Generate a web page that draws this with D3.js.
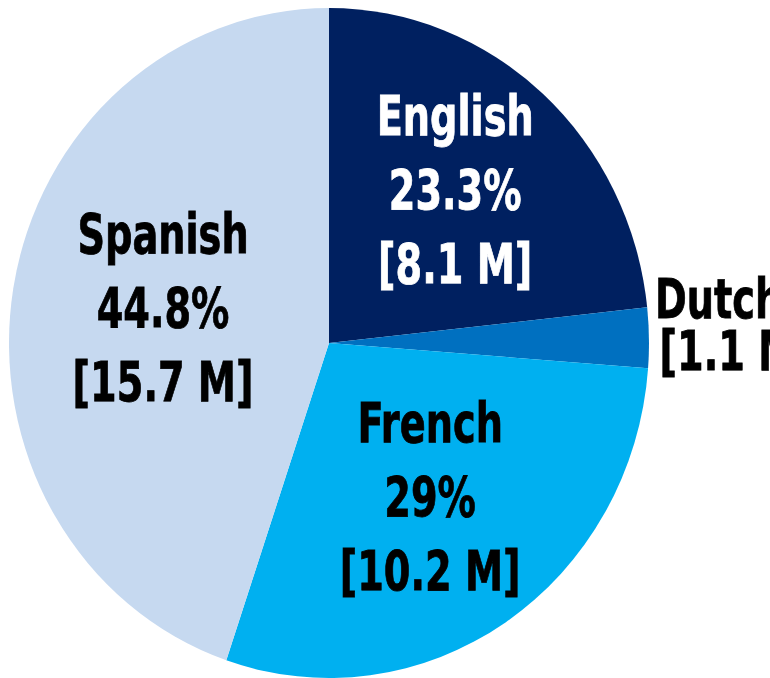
<!DOCTYPE html>
<html>
<head>
<meta charset="utf-8">
<script src="https://cdn.jsdelivr.net/npm/d3@7"></script>
<style>
  html, body { margin: 0; padding: 0; background: #fff; overflow: hidden; }
  svg { display: block; }
  text { font-family: "Liberation Sans Narrow", "DejaVu Sans Condensed", "Roboto", sans-serif; font-weight: bold; }
</style>
</head>
<body>
<script>
// pie data, clockwise from 12 o'clock
var languages = ["English", "Dutch", "French", "Spanish"];
var shares = [23.3, 2.9, 29, 44.8];          // percent
var speakers = ["8.1 M", "1.1 M", "10.2 M", "15.7 M"];
var colours = ["#002060", "#0070c0", "#00b0f0", "#c6d9f0"];
var textColours = ["#ffffff", "#000000", "#000000", "#000000"];

var width = 770, height = 678;
var cx = 329, cy = 343;
var radius = 320, yStretch = 335 / 320;   // the original pie is slightly taller than wide
var squeeze = 0.76;                       // condensed look of the labels

var rows = languages.map(function (d, i) {
  return { name: d, share: shares[i], count: speakers[i], fill: colours[i], ink: textColours[i] };
});

var svg = d3.select("body").append("svg")
  .attr("width", width)
  .attr("height", height);

var pie = d3.pie()
  .sort(null)
  .value(function (d) { return d.share; });

var arc = d3.arc().innerRadius(0).outerRadius(radius);

var slices = pie(rows);

var g = svg.append("g")
  .attr("transform", "translate(" + cx + "," + cy + ") scale(1," + yStretch + ")");

g.selectAll("path")
  .data(slices)
  .enter().append("path")
  .attr("d", arc)
  .attr("fill", function (d) { return d.data.fill; });

var fontSize = 56, lineGap = 74;

// bigger slices get their label pulled a bit nearer the centre
function labelPoint(d) {
  var r = radius * (0.66 - 0.3 * d.data.share / 100);
  var c = d3.arc().innerRadius(r).outerRadius(r).centroid(d);
  return [cx + c[0], cy + c[1] * yStretch - 7];
}

// labels inside the slices (all but the thin Dutch one)
var inside = slices.filter(function (d) { return d.data.name !== "Dutch"; });

var labels = svg.selectAll("g.label")
  .data(inside)
  .enter().append("g")
  .attr("class", "label")
  .attr("transform", function (d) {
    var p = labelPoint(d);
    return "translate(" + p[0] + "," + p[1] + ") scale(" + squeeze + ",1)";
  });

labels.each(function (d) {
  var lines = [d.data.name, d.data.share + "%", "[" + d.data.count + "]"];
  d3.select(this).selectAll("text")
    .data(lines)
    .enter().append("text")
    .attr("text-anchor", "middle")
    .attr("x", 0)
    .attr("y", function (t, i) { return (i - 1) * lineGap + 20; })
    .attr("font-size", fontSize)
    .attr("fill", d.data.ink)
    .attr("stroke", d.data.ink)
    .attr("stroke-width", 0.8)
    .text(function (t) { return t; });
});

// Dutch sits outside on the right, partly cut by the edge
var dutch = slices.filter(function (d) { return d.data.name === "Dutch"; })[0];
var mid = (dutch.startAngle + dutch.endAngle) / 2;
var dx = cx + Math.sin(mid) * radius + 6;
var dy = cy - Math.cos(mid) * radius * yStretch;

var dutchLabel = svg.append("g")
  .attr("transform", "translate(" + dx + "," + dy + ") scale(" + squeeze + ",1)")
  .attr("font-size", fontSize)
  .attr("fill", dutch.data.ink)
  .attr("stroke", dutch.data.ink)
  .attr("stroke-width", 0.8);
dutchLabel.append("text")
  .attr("x", 0).attr("y", -20)
  .text(dutch.data.name + " " + dutch.data.share + "%");
dutchLabel.append("text")
  .attr("x", 6).attr("y", 32)
  .text("[" + dutch.data.count + "]");
</script>
</body>
</html>
